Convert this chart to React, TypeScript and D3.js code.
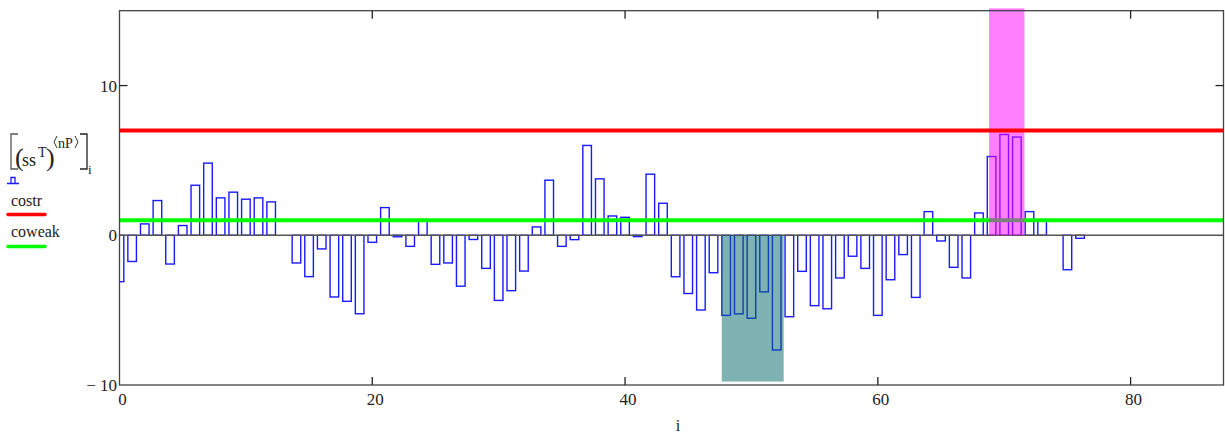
import React from 'react';
import * as d3 from 'd3';

// values of [(ss^T)^<nP>]_i, one per i = 0..76
const barValues = [
  -3.1, -1.75, 0.76, 2.32, -1.92, 0.65, 3.34, 4.82, 2.5, 2.88,
  2.41, 2.5, 2.23, 0, -1.85, -2.76, -0.91, -4.12, -4.41, -5.24,
  -0.47, 1.85, -0.1, -0.74, 1.05, -1.94, -1.85, -3.4, -0.28, -2.21,
  -4.35, -3.7, -2.39, 0.56, 3.68, -0.74, -0.29, 6.0, 3.77, 1.29,
  1.2, -0.09, 4.08, 2.14, -2.77, -3.89, -4.99, -2.5, -5.35, -5.25,
  -5.54, -3.78, -7.66, -5.44, -2.41, -4.7, -4.91, -2.85, -1.4, -2.21,
  -5.35, -2.97, -1.29, -4.15, 1.58, -0.38, -2.14, -2.85, 1.49, 5.26,
  6.73, 6.56, 1.58, 1.0, 0, -2.3, -0.2,
];

const costr = 7;
const coweak = 1;

// shaded regions [x0, x1, y0, y1]
const tealRegion = [47.65, 52.55, -9.77, 0];
const pinkRegion = [68.8, 71.6, 0, 15.16];

const xTicks = [0, 20, 40, 60, 80];
const yTicks = [-10, 0, 10];

const W = 1225;
const H = 435;

export default function App() {
  const x = d3.scaleLinear().domain([0, 87.35]).range([119.5, 1223.5]);
  const y = d3.scaleLinear().domain([-10, 15]).range([385, 10.7]);
  const [x0, x1] = x.range();
  const [yb, yt] = y.range();
  const bw = 0.34;
  const font = '"Liberation Serif", "DejaVu Serif", serif';

  return (
    <svg width={W} height={H} style={{ position: 'absolute', left: 0, top: 0, background: '#fff' }}>
      <defs>
        <clipPath id="plot">
          <rect x={x0} y={yt} width={x1 - x0} height={yb - yt} />
        </clipPath>
      </defs>

      {/* bars */}
      <g clipPath="url(#plot)">
        {barValues.map((v, i) => (
          <rect
            key={i}
            x={x(i - bw)}
            y={y(Math.max(v, 0))}
            width={x(i + bw) - x(i - bw)}
            height={Math.abs(y(v) - y(0))}
            fill="none"
            stroke="#1a1aff"
            strokeWidth={1.4}
          />
        ))}
      </g>

      {/* zero line */}
      <line x1={x0} x2={x1} y1={y(0)} y2={y(0)} stroke="#555" strokeWidth={1.5} />

      {/* coweak */}
      <line x1={x0} x2={x1} y1={y(coweak)} y2={y(coweak)} stroke="#00ff00" strokeWidth={4} />

      {/* shaded regions */}
      <rect
        x={x(tealRegion[0])}
        y={y(tealRegion[3])}
        width={x(tealRegion[1]) - x(tealRegion[0])}
        height={y(tealRegion[2]) - y(tealRegion[3])}
        fill="rgb(0,102,102)"
        fillOpacity={0.5}
      />
      <rect
        x={x(pinkRegion[0])}
        y={y(pinkRegion[3])}
        width={x(pinkRegion[1]) - x(pinkRegion[0])}
        height={y(pinkRegion[2]) - y(pinkRegion[3])}
        fill="rgb(255,0,255)"
        fillOpacity={0.5}
      />

      {/* costr */}
      <line x1={x0} x2={x1} y1={y(costr)} y2={y(costr)} stroke="#ff0000" strokeWidth={4} />

      {/* frame */}
      <rect x={x0} y={yt} width={x1 - x0} height={yb - yt} fill="none" stroke="#444" strokeWidth={1.3} />

      {/* ticks */}
      {xTicks.filter((t) => t > 0).map((t) => (
        <g key={t} stroke="#222" strokeWidth={1.3}>
          <line x1={x(t)} x2={x(t)} y1={yb} y2={yb - 8} />
          <line x1={x(t)} x2={x(t)} y1={yt} y2={yt + 8} />
        </g>
      ))}
      <line x1={x0} x2={x0 + 8} y1={y(10)} y2={y(10)} stroke="#222" strokeWidth={1.3} />
      <line x1={x1} x2={x1 - 8} y1={y(10)} y2={y(10)} stroke="#222" strokeWidth={1.3} />

      {/* tick labels */}
      {xTicks.map((t) => (
        <text key={t} x={x(t) + 3} y={405} textAnchor="middle" fontFamily={font} fontSize={17} fill="#222">
          {t}
        </text>
      ))}
      {yTicks.map((t) => (
        <text key={t} x={117} y={y(t) + 6} textAnchor="end" fontFamily={font} fontSize={17} fill="#222">
          {t < 0 ? '\u2212 ' + Math.abs(t) : t}
        </text>
      ))}
      <text x={678} y={431} textAnchor="middle" fontFamily={font} fontSize={16} fill="#222">i</text>

      {/* legend */}
      <g fontFamily={font} fill="#222">
        <path d="M18,134 H11 V169 H18" fill="none" stroke="#555" strokeWidth={1.3} />
        <path d="M80,134 H87 V169 H80" fill="none" stroke="#222" strokeWidth={1.3} />
        <text x={15} y={166} fontSize={26}>(</text>
        <text x={22} y={166} fontSize={18}>ss</text>
        <text x={38} y={157} fontSize={14}>T</text>
        <text x={46} y={166} fontSize={26}>)</text>
        <path d="M57,136 L54,142 L57,148 M75,136 L78,142 L75,148" fill="none" stroke="#333" strokeWidth={1} />
        <text x={58} y={148} fontSize={14}>nP</text>
        <text x={88} y={174} fontSize={13}>i</text>

        <path d="M7,183.5 H19 M11,183.5 V177.5 H15 V183.5" fill="none" stroke="#1a1aff" strokeWidth={1.3} />

        <text x={11} y={206} fontSize={16}>costr</text>
        <line x1={8} x2={45} y1={214.5} y2={214.5} stroke="#ff0000" strokeWidth={3.5} strokeLinecap="round" />
        <text x={11} y={237} fontSize={16}>coweak</text>
        <line x1={8} x2={45} y1={246.5} y2={246.5} stroke="#00ff00" strokeWidth={3.5} strokeLinecap="round" />
      </g>
    </svg>
  );
}
